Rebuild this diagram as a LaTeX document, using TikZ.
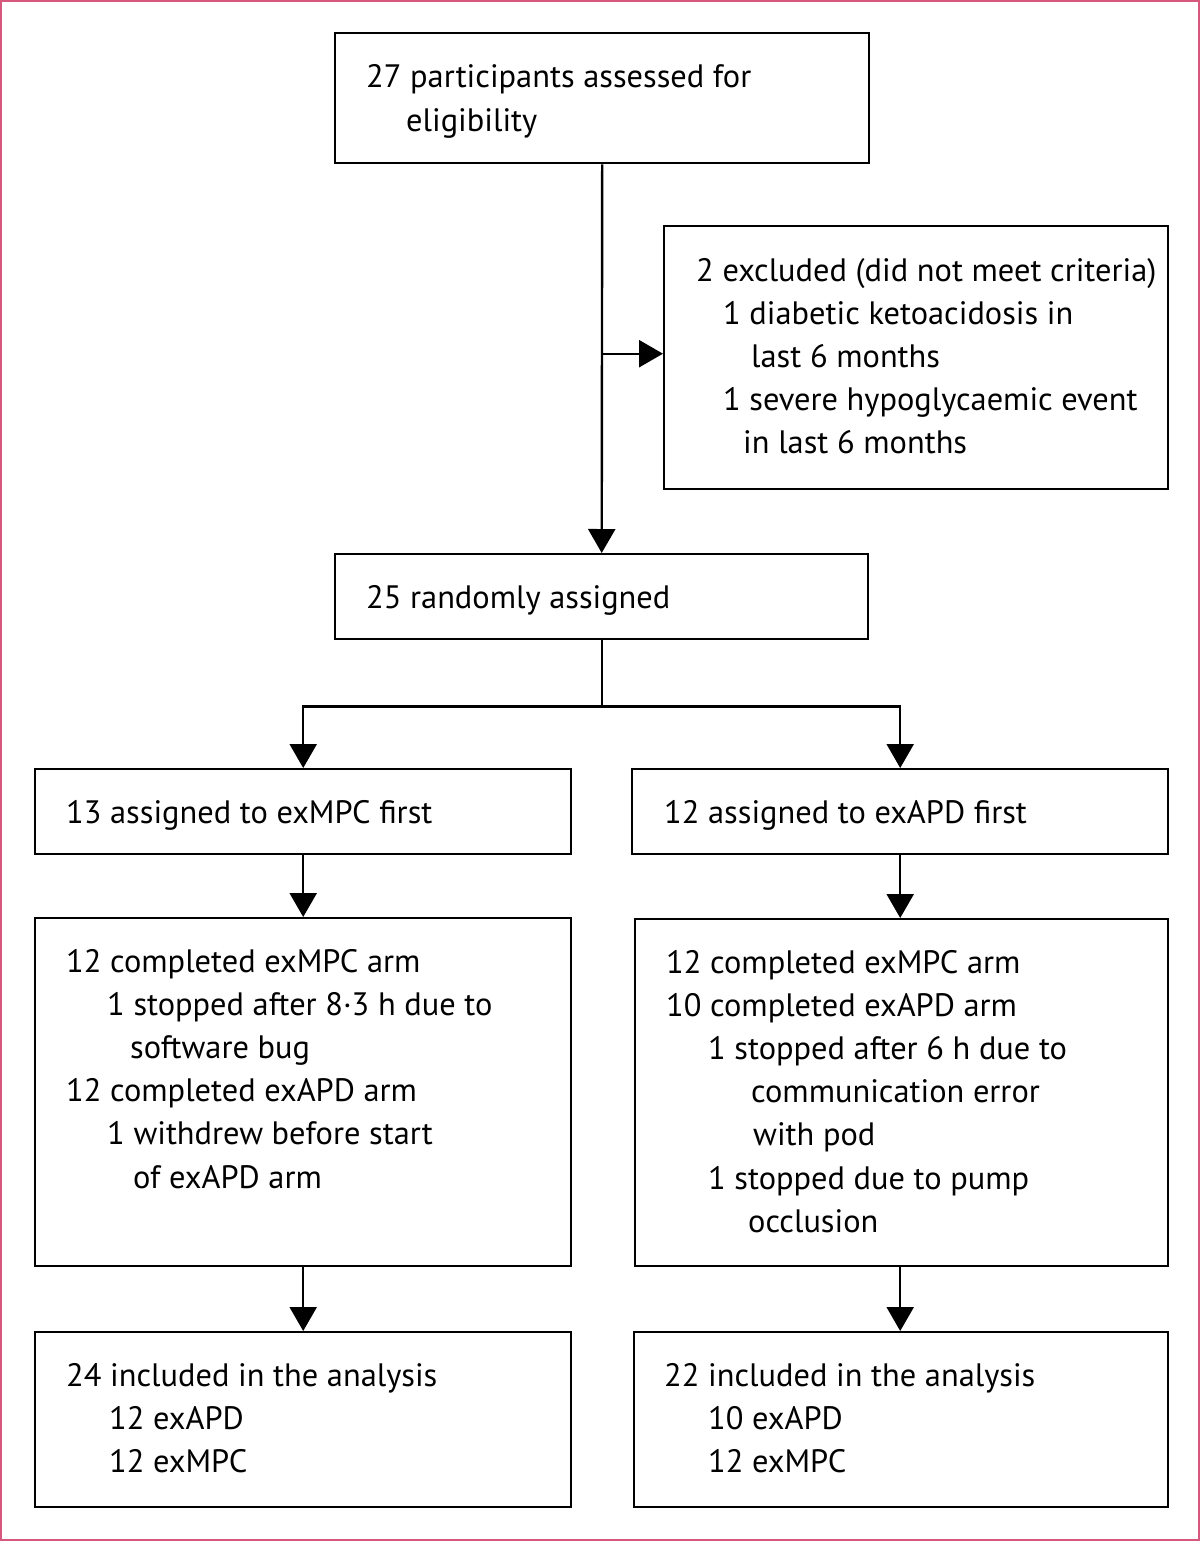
\documentclass[tikz,border=0pt]{standalone}
\usepackage{fontspec}
\setmainfont{PT Sans}
\usetikzlibrary{arrows.meta}

\definecolor{framepink}{RGB}{214,88,125}
\newlength{\unitpx}
\setlength{\unitpx}{0.5pt}
\newcommand{\indpx}[1]{\hspace*{#1\unitpx}}

\begin{document}
\begin{tikzpicture}[
    x = 0.5pt,
    y = -0.5pt,
    line width = 1.2pt,
    >={Triangle[width=13.5pt,length=12pt]},
    box/.style = {
      draw,
      rectangle,
      anchor = north west,
      inner sep = 0pt
    },
    txt/.style = {
      anchor = base west,
      inner sep = 0pt,
      font = \fontsize{16.2}{21.6}\selectfont
    }
  ]
  \useasboundingbox (0,0) rectangle (1200,1541);
  \draw[framepink, line width=1.2pt] (1,1) rectangle (1199,1540);

  % boxes
  \node[box, minimum width=267pt, minimum height=65pt] (elig) at (334,32) {};
  \node[box, minimum width=252pt, minimum height=131.5pt] (excl) at (663,225) {};
  \node[box, minimum width=266.5pt, minimum height=42.5pt] (rand) at (334,553) {};
  \node[box, minimum width=268pt, minimum height=42.5pt] (armL) at (34,768) {};
  \node[box, minimum width=268pt, minimum height=42.5pt] (armR) at (631,768) {};
  \node[box, minimum width=268pt, minimum height=174pt] (compL) at (34,917) {};
  \node[box, minimum width=266.5pt, minimum height=173.5pt] (compR) at (634,918) {};
  \node[box, minimum width=268pt, minimum height=87.5pt] (anaL) at (34,1331) {};
  \node[box, minimum width=267pt, minimum height=87.5pt] (anaR) at (633,1331) {};

  % texts
  \node[txt] (eligtxt) at ([shift={(31,56)}]elig.north west) {\begin{tabular}[t]{@{}l@{}}
    27 participants assessed for\\
    \indpx{40}eligibility\end{tabular}};
  \node[txt] (excltxt) at ([shift={(32,56)}]excl.north west) {\begin{tabular}[t]{@{}l@{}}
    2 excluded (did not meet criteria)\\
    \indpx{27}1 diabetic ketoacidosis in\\
    \indpx{55}last 6 months\\
    \indpx{27}1 severe hypoglycaemic event\\
    \indpx{47}in last 6 months\end{tabular}};
  \node[txt] (randtxt) at ([shift={(31,55)}]rand.north west) {25 randomly assigned};
  \node[txt] (armLtxt) at ([shift={(31,55)}]armL.north west) {13 assigned to exMPC first};
  \node[txt] (armRtxt) at ([shift={(32,55)}]armR.north west) {12 assigned to exAPD first};
  \node[txt] (compLtxt) at ([shift={(31,55)}]compL.north west) {\begin{tabular}[t]{@{}l@{}}
    12 completed exMPC arm\\
    \indpx{41}1 stopped after 8·3 h due to\\
    \indpx{64}software bug\\
    12 completed exAPD arm\\
    \indpx{41}1 withdrew before start\\
    \indpx{67}of exAPD arm\end{tabular}};
  \node[txt] (compRtxt) at ([shift={(31,55)}]compR.north west) {\begin{tabular}[t]{@{}l@{}}
    12 completed exMPC arm\\
    10 completed exAPD arm\\
    \indpx{42}1 stopped after 6 h due to\\
    \indpx{85}communication error\\
    \indpx{87}with pod\\
    \indpx{42}1 stopped due to pump\\
    \indpx{82}occlusion\end{tabular}};
  \node[txt] (anaLtxt) at ([shift={(31,55)}]anaL.north west) {\begin{tabular}[t]{@{}l@{}}
    24 included in the analysis\\
    \indpx{43}12 exAPD\\
    \indpx{43}12 exMPC\end{tabular}};
  \node[txt] (anaRtxt) at ([shift={(30,55)}]anaR.north west) {\begin{tabular}[t]{@{}l@{}}
    22 included in the analysis\\
    \indpx{44}10 exAPD\\
    \indpx{44}12 exMPC\end{tabular}};

  % connectors
  \coordinate (exclsplit) at ([yshift=2pt]elig.south |- excl.west);
  \coordinate (randsplit) at ([yshift=-33pt]rand.south);
  \draw[->] (elig.south) -- (rand.north);
  \draw[->] (exclsplit) -- (exclsplit -| excl.west);
  \draw (rand.south) -- (randsplit);
  \draw[->] (randsplit) -| (armL.north);
  \draw[->] (randsplit) -| (armR.north);
  \draw[->] (armL.south) -- (compL.north -| armL.south);
  \draw[->] (armR.south) -- (compR.north -| armR.south);
  \draw[->] (compL.south -| armL.south) -- (anaL.north -| armL.south);
  \draw[->] (compR.south -| armR.south) -- (anaR.north -| armR.south);

\end{tikzpicture}
\end{document}
